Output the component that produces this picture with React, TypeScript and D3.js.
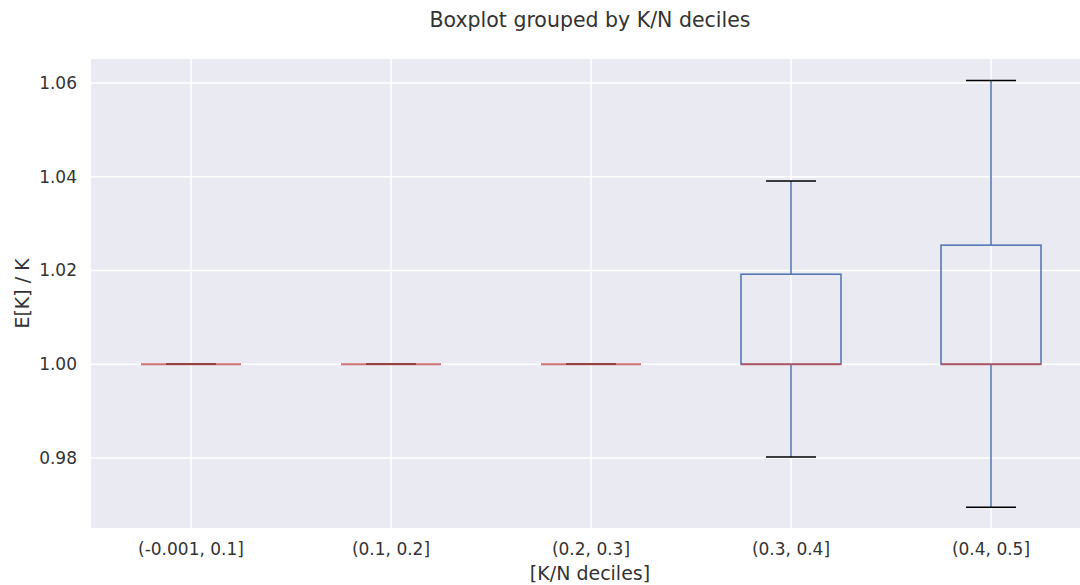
import React from 'react'
import * as d3 from 'd3'

// deciles of K/N
const categories = ['(-0.001, 0.1]', '(0.1, 0.2]', '(0.2, 0.3]', '(0.3, 0.4]', '(0.4, 0.5]']
const whiskerLow = [1.0, 1.0, 1.0, 0.9802, 0.9695]
const q1 = [1.0, 1.0, 1.0, 1.0, 1.0]
const median = [1.0, 1.0, 1.0, 1.0, 1.0]
const q3 = [1.0, 1.0, 1.0, 1.0192, 1.0254]
const whiskerHigh = [1.0, 1.0, 1.0, 1.0391, 1.0605]
const yTicks = [0.98, 1.0, 1.02, 1.04, 1.06]

const width = 1080
const height = 585
const margin = { top: 59, right: -11, bottom: 57, left: 91 }

const font = 'DejaVu Sans, sans-serif'
const textColor = '#333'
const boxColor = '#4C72B0'
const medianColor = '#C44E52'

export default function App () {
  const innerW = width - margin.left - margin.right
  const innerH = height - margin.top - margin.bottom

  const x = d3.scaleLinear()
    .domain([0.5, categories.length + 0.5])
    .range([0, innerW])

  const y = d3.scaleLinear()
    .domain([0.96507, 1.0651])
    .range([innerH, 0])

  const boxHalf = x(1.25) - x(1)
  const capHalf = x(1.125) - x(1)

  return (
    <svg width={width} height={height} style={{ position: 'fixed', left: 0, top: 0, display: 'block' }}>
      <rect x={0} y={0} width={width} height={height} fill='#fff' />
      <text x={590} y={27} textAnchor='middle' fontFamily={font} fontSize={20.5} fill={textColor}>
        Boxplot grouped by K/N deciles
      </text>
      <g transform={`translate(${margin.left}, ${margin.top})`}>
        <rect x={0} y={0} width={innerW} height={innerH} fill='#EAEAF2' />
        {yTicks.map(t => (
          <g key={t}>
            <line x1={0} x2={innerW} y1={y(t)} y2={y(t)} stroke='#fff' strokeWidth={1.5} />
            <text x={-14} y={y(t)} dy='0.35em' textAnchor='end' fontFamily={font} fontSize={17} fill={textColor}>
              {t.toFixed(2)}
            </text>
          </g>
        ))}
        {categories.map((c, i) => (
          <g key={c}>
            <line x1={x(i + 1)} x2={x(i + 1)} y1={0} y2={innerH} stroke='#fff' strokeWidth={1.5} />
            <text x={x(i + 1)} y={innerH + 21} dy='0.35em' textAnchor='middle' fontFamily={font} fontSize={17} fill={textColor}>
              {c}
            </text>
          </g>
        ))}
        {categories.map((c, i) => {
          const cx = x(i + 1)
          return (
            <g key={'b' + c} fill='none' strokeWidth={1.5}>
              <rect x={cx - boxHalf} y={y(q3[i])} width={boxHalf * 2} height={Math.max(0, y(q1[i]) - y(q3[i]))} stroke={boxColor} />
              <line x1={cx} x2={cx} y1={y(q3[i])} y2={y(whiskerHigh[i])} stroke={boxColor} />
              <line x1={cx} x2={cx} y1={y(q1[i])} y2={y(whiskerLow[i])} stroke={boxColor} />
              <line x1={cx - capHalf} x2={cx + capHalf} y1={y(whiskerHigh[i])} y2={y(whiskerHigh[i])} stroke='#000' />
              <line x1={cx - capHalf} x2={cx + capHalf} y1={y(whiskerLow[i])} y2={y(whiskerLow[i])} stroke='#000' />
              <line x1={cx - boxHalf} x2={cx + boxHalf} y1={y(median[i])} y2={y(median[i])} stroke={medianColor} strokeOpacity={0.8} strokeWidth={1.8} />
            </g>
          )
        })}
      </g>
      <text x={590} y={573} dy='0.35em' textAnchor='middle' fontFamily={font} fontSize={19} fill={textColor}>
        [K/N deciles]
      </text>
      <text transform={`translate(22, ${margin.top + innerH / 2}) rotate(-90)`} dy='0.35em' textAnchor='middle' fontFamily={font} fontSize={19} fill={textColor}>
        E[K] / K
      </text>
    </svg>
  )
}
